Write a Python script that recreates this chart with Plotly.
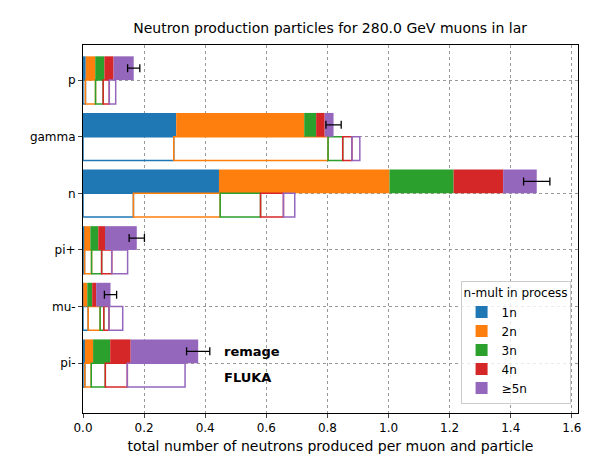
import plotly.graph_objects as go

particles = ["p", "gamma", "n", "pi+", "mu-", "pi-"]
mult_labels = ["1n", "2n", "3n", "4n", "≥5n"]
colors = ["#1f77b4", "#ff7f0e", "#2ca02c", "#d62728", "#9467bd"]

# contributions per multiplicity (values per particle)
remage = {
    "1n": [0.009, 0.305, 0.445, 0.004, 0.001, 0.006],
    "2n": [0.031, 0.419, 0.558, 0.020, 0.013, 0.027],
    "3n": [0.030, 0.039, 0.210, 0.026, 0.016, 0.056],
    "4n": [0.030, 0.028, 0.162, 0.022, 0.013, 0.067],
    "≥5n": [0.066, 0.029, 0.110, 0.104, 0.047, 0.221],
}
remage_err = [0.02, 0.025, 0.043, 0.025, 0.02, 0.038]
fluka = {
    "1n": [0.008, 0.297, 0.165, 0.005, 0.017, 0.006],
    "2n": [0.033, 0.505, 0.284, 0.023, 0.039, 0.021],
    "3n": [0.025, 0.048, 0.132, 0.033, 0.012, 0.046],
    "4n": [0.020, 0.030, 0.075, 0.033, 0.017, 0.072],
    "≥5n": [0.021, 0.026, 0.037, 0.052, 0.045, 0.189],
}

ypos = list(range(len(particles) - 1, -1, -1))
h = 0.42

fig = go.Figure()
base_r = [0.0] * len(particles)
base_f = [0.0] * len(particles)
for lab, col in zip(mult_labels, colors):
    fig.add_trace(go.Bar(y=[y + h / 2 for y in ypos], x=remage[lab], base=base_r,
                         orientation="h", width=h, marker=dict(color=col, line=dict(width=0)),
                         name=lab, showlegend=True))
    fig.add_trace(go.Bar(y=[y - h / 2 for y in ypos], x=fluka[lab], base=base_f,
                         orientation="h", width=h,
                         marker=dict(color="rgba(255,255,255,0)", line=dict(color=col, width=1.5)),
                         showlegend=False))
    base_r = [b + v for b, v in zip(base_r, remage[lab])]
    base_f = [b + v for b, v in zip(base_f, fluka[lab])]

fig.add_trace(go.Scatter(x=base_r, y=[y + h / 2 for y in ypos], mode="markers",
                         marker=dict(size=0.1, color="black"), showlegend=False,
                         error_x=dict(type="data", array=remage_err, color="black",
                                      thickness=1.3, width=4)))

fig.add_annotation(x=0.455, y=0.21, text="<b>remage</b>", showarrow=False, xanchor="left",
                   font=dict(size=13, color="black"))
fig.add_annotation(x=0.455, y=-0.25, text="<b>FLUKA</b>", showarrow=False, xanchor="left",
                   font=dict(size=13, color="black"))

fig.update_layout(
    width=590, height=454, barmode="overlay", plot_bgcolor="white", paper_bgcolor="white",
    font=dict(family="DejaVu Sans", size=12, color="black"),
    margin=dict(l=75, r=20, t=37, b=49, autoexpand=False),
    title=dict(text="Neutron production particles for 280.0 GeV muons in lar",
               x=0.546, xanchor="center", y=0.955, yanchor="middle", font=dict(size=14)),
    legend=dict(title=dict(text="n-mult in process", font=dict(size=12)), x=0.985, y=0.025,
                xanchor="right", yanchor="bottom", bordercolor="#cccccc", borderwidth=1,
                bgcolor="rgba(255,255,255,0.8)", font=dict(size=12)),
)
fig.update_xaxes(range=[0, 1.62], dtick=0.2, tickformat=".1f", showgrid=True,
                 gridcolor="#999999", griddash="dot", showline=True, linecolor="black",
                 mirror=True, ticks="outside", ticklen=4, zeroline=False, automargin=False,
                 title=dict(text="total number of neutrons produced per muon and particle", standoff=6))
fig.update_yaxes(range=[-0.88, 5.62], tickvals=ypos, ticktext=particles, showgrid=True,
                 gridcolor="#999999", griddash="dot", showline=True, linecolor="black",
                 mirror=True, ticks="outside", ticklen=4, zeroline=False, automargin=False)

fig.write_html("out.html")
